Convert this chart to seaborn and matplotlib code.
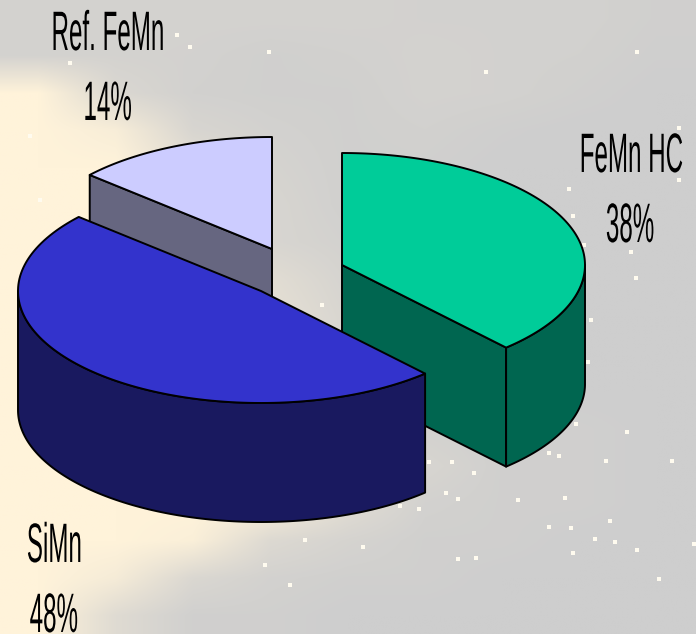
import numpy as np
import matplotlib
matplotlib.use("Agg")
import matplotlib.pyplot as plt
import matplotlib.patheffects as pe
from matplotlib.colors import to_rgb
from matplotlib.transforms import Affine2D
import seaborn as sns

# ---- data ----
categories = ["FeMn HC", "SiMn", "Ref. FeMn"]
values = [38.2, 48.3, 13.5]
labels_pct = ["38%", "48%", "14%"]

top_colors = ["#00CC99", "#3333CC", "#CCCCFF"]
side_colors = ["#006650", "#19195F", "#666680"]

# slice apex positions in canvas pixels (exploded pie)
centers_x = [342, 261, 272]
centers_y = [265, 291, 249]
label_x = [630.5, 54.5, 107.5]
label_name_y = [172, 562, 50]
label_pct_x = [630, 54, 107]
label_pct_y = [242, 632, 120]

star_x = [177, 190, 269, 70, 486, 637, 569, 573, 584, 631, 636, 679, 679, 591, 588, 576,
          627, 549, 559, 606, 672, 429, 452, 474, 446, 458, 419, 400, 518, 565, 549, 571,
          610, 595, 615, 637, 573, 694, 458, 476, 659, 363, 305, 265, 290, 322, 40, 30]
star_y = [35, 47, 52, 63, 72, 52, 189, 216, 245, 252, 278, 128, 180, 320, 362, 424,
          432, 453, 456, 461, 461, 462, 462, 473, 493, 499, 509, 506, 500, 498, 527, 528,
          521, 539, 542, 550, 553, 544, 559, 558, 579, 547, 540, 565, 585, 305, 200, 136]

warmth = np.array([
    [.12, .12, .12, .12, .12, .10, .10, .10, .05],
    [.12, .12, .10, .05, .08, .12, .10, .08, .03],
    [1.0, .25, .08, .05, .05, .12, .10, .05, .00],
    [1.0, .85, .20, .10, .05, .08, .03, .00, .00],
    [1.0, 1.0, .45, .15, .05, .05, .00, .00, .00],
    [1.0, 1.0, .60, .20, .05, .05, .00, .00, .00],
    [1.0, 1.0, .70, .20, .10, .05, .00, .00, .00],
    [1.0, 1.0, .90, .40, .15, .05, .00, .00, .00],
    [1.0, 1.0, 1.0, .50, .20, .05, .00, .00, .00],
    [1.0, 1.0, 1.0, .60, .20, .05, .00, .00, .00],
    [1.0, 1.0, 1.0, .60, .20, .05, .00, .00, .00],
    [1.0, 1.0, 1.0, .80, .30, .10, .05, .05, .00],
    [1.0, 1.0, 1.0, 1.0, .60, .20, .05, .05, .00],
    [1.0, 1.0, 1.0, .90, .40, .10, .05, .05, .00],
    [1.0, 1.0, .90, .30, .15, .05, .05, .00, .00],
    [1.0, .80, .25, .10, .05, .05, .00, .00, .00],
    [1.0, .35, .05, .05, .00, .00, .00, .00, .00],
])

RX, RY, DEPTH = 243, 112, 119
EDGE_W = 1.4
FONT_PT = 40
SQUEEZE = 0.435

sns.set_theme(style="white")
plt.rcParams["font.family"] = ["Liberation Sans", "DejaVu Sans"]


class Squeeze(pe.AbstractPathEffect):
    """Narrow a text around its own centre and move it by (dx, dy) pixels."""

    def __init__(self, sx, dx=0.0, dy=0.0):
        super().__init__()
        self.sx, self.dx, self.dy = sx, dx, dy

    def draw_path(self, renderer, gc, tpath, affine, rgbFace=None):
        ext = tpath.get_extents()
        c = (ext.x0 + ext.x1) / 2
        t = (Affine2D().translate(-c, 0).scale(self.sx, 1).translate(c, 0) + affine
             + Affine2D().translate(self.dx, self.dy))
        renderer.draw_path(gc, tpath, t, rgbFace)


fig = plt.figure(figsize=(6.96, 6.34), dpi=100)
ax = fig.add_axes([0, 0, 1, 1])
ax.set_xlim(0, 696)
ax.set_ylim(634, 0)
ax.axis("off")

# background
base = np.array(to_rgb("#CECECE"))
warm = np.array(to_rgb("#FFF3DA"))
bg = base[None, None, :] + warmth[:, :, None] * (warm - base)[None, None, :]
ax.imshow(bg, extent=(0, 696, 634, 0), aspect="auto", interpolation="bilinear", zorder=0)
ax.scatter(star_x, star_y, s=12, marker="s", color="#FFFBEF", linewidths=0, zorder=1)


def rim(cx, cy, t0, t1, n=120):
    t = np.radians(np.linspace(t0, t1, n))
    return cx + RX * np.sin(t), cy - RY * np.cos(t)


def rim_point(cx, cy, t):
    a = np.radians(t)
    return cx + RX * np.sin(a), cy - RY * np.cos(a)


def top_face(i, t0, t1, z):
    x, y = rim(centers_x[i], centers_y[i], t0, t1)
    ax.fill(np.r_[centers_x[i], x], np.r_[centers_y[i], y], facecolor=top_colors[i], zorder=z, **kw)


def cut_face(i, t, z):
    cx, cy = centers_x[i], centers_y[i]
    px, py = rim_point(cx, cy, t)
    ax.fill([cx, px, px, cx], [cy, py, py + DEPTH, cy + DEPTH], facecolor=side_colors[i], zorder=z, **kw)


def outer_wall(i, t0, t1, z):
    x, y = rim(centers_x[i], centers_y[i], t0, t1)
    ax.fill(np.r_[x, x[::-1]], np.r_[y, y[::-1] + DEPTH], facecolor=side_colors[i], zorder=z, **kw)


kw = dict(edgecolor="black", linewidth=EDGE_W, joinstyle="round")
ends = np.cumsum(values) * 3.6
starts = np.r_[0, ends[:-1]]

# Ref. FeMn goes furthest back
cut_face(2, starts[2], 3)
top_face(2, starts[2], ends[2], 3)
# FeMn HC
cut_face(0, ends[0], 4)
outer_wall(0, 90, ends[0], 4)
top_face(0, starts[0], ends[0], 4)
# SiMn in front
outer_wall(1, starts[1], 270, 5)
top_face(1, starts[1], ends[1], 5)

# labels: the text box is kept on the canvas, the narrowed glyphs land on the target spot
renderer = fig.canvas.get_renderer()


def label(x, y, s):
    txt = ax.text(x, y, s, ha="center", va="baseline", fontsize=FONT_PT, color="black", zorder=6)
    box = txt.get_window_extent(renderer)
    dx = max(0, 1 - box.x0) + min(0, 695 - box.x1)
    dy = max(0, 1 - box.y0)
    txt.set_position((x + dx, y - dy))
    txt.set_path_effects([Squeeze(SQUEEZE, -dx, -dy)])


for i, name in enumerate(categories):
    label(label_x[i], label_name_y[i], name)
    label(label_pct_x[i], label_pct_y[i], labels_pct[i])

fig.savefig("out.png", dpi=100)
